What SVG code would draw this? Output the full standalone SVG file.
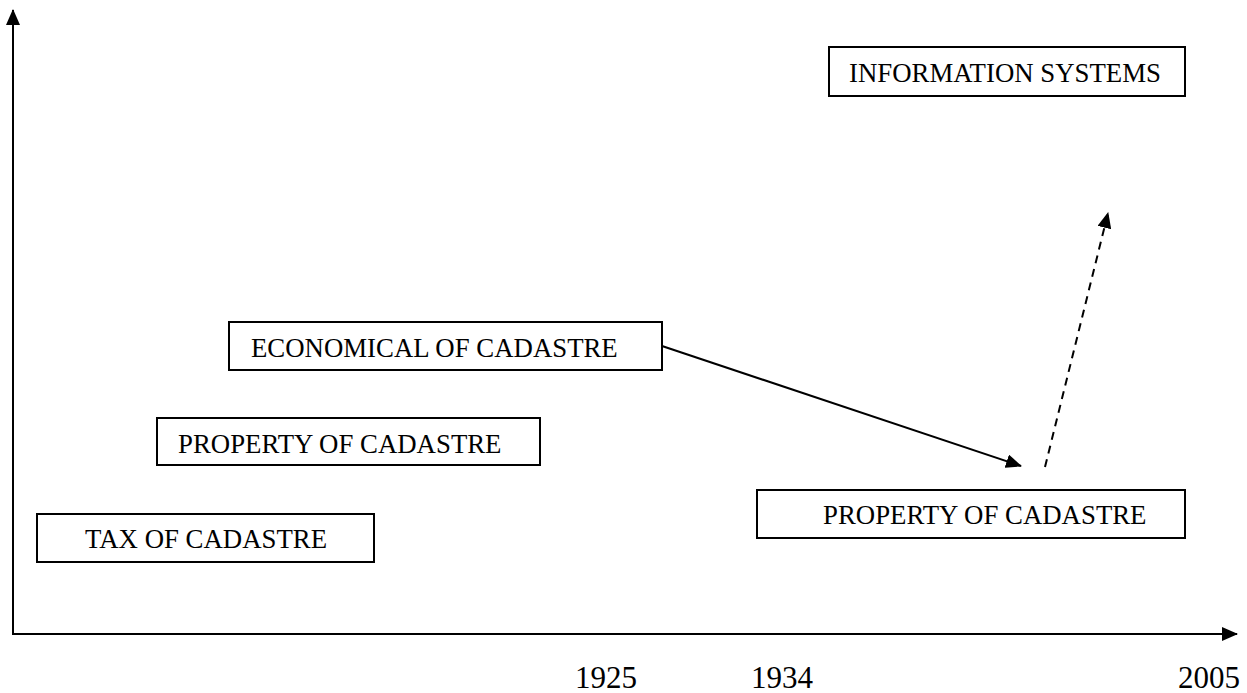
<svg xmlns="http://www.w3.org/2000/svg" width="1247" height="693" viewBox="0 0 1247 693">
<style>
.box{fill:#fff;stroke:#000;stroke-width:2}
.t{font-family:"Liberation Serif",serif;font-size:26.8px;fill:#000}
.y{font-family:"Liberation Serif",serif;font-size:31px;fill:#000}
.ln{stroke:#000;stroke-width:2;fill:none}
</style>
<defs>
<marker id="big" markerWidth="16" markerHeight="14" refX="15" refY="7" orient="auto" markerUnits="userSpaceOnUse" viewBox="0 0 16 14">
<path d="M0,0 L16,7 L0,14 z" fill="#000"/>
</marker>
</defs>
<g id="axes">
<line class="ln" x1="13" y1="635" x2="13" y2="10" marker-end="url(#big)"/>
<line class="ln" x1="12" y1="634" x2="1237" y2="634" marker-end="url(#big)"/>
</g>
<g id="tax"><rect class="box" x="37" y="514" width="337" height="48"/><text class="t" x="85" y="548">TAX OF CADASTRE</text></g>
<g id="property1"><rect class="box" x="157" y="418" width="383" height="47"/><text class="t" x="178" y="453">PROPERTY OF CADASTRE</text></g>
<g id="economical"><rect class="box" x="229" y="322" width="433" height="48"/><text class="t" x="251" y="357">ECONOMICAL OF CADASTRE</text></g>
<g id="information"><rect class="box" x="829" y="47" width="356" height="49"/><text class="t" x="849" y="82">INFORMATION SYSTEMS</text></g>
<g id="property2"><rect class="box" x="757" y="490" width="428" height="48"/><text class="t" x="823" y="524">PROPERTY OF CADASTRE</text></g>
<g id="connectors">
<line class="ln" x1="662" y1="346" x2="1021" y2="466" marker-end="url(#big)"/>
<line class="ln" x1="1045" y1="467" x2="1108" y2="213" stroke-dasharray="8,6" marker-end="url(#big)"/>
</g>
<g id="years">
<text class="y" x="575" y="688">1925</text>
<text class="y" x="751" y="688">1934</text>
<text class="y" x="1178" y="688">2005</text>
</g>
</svg>
